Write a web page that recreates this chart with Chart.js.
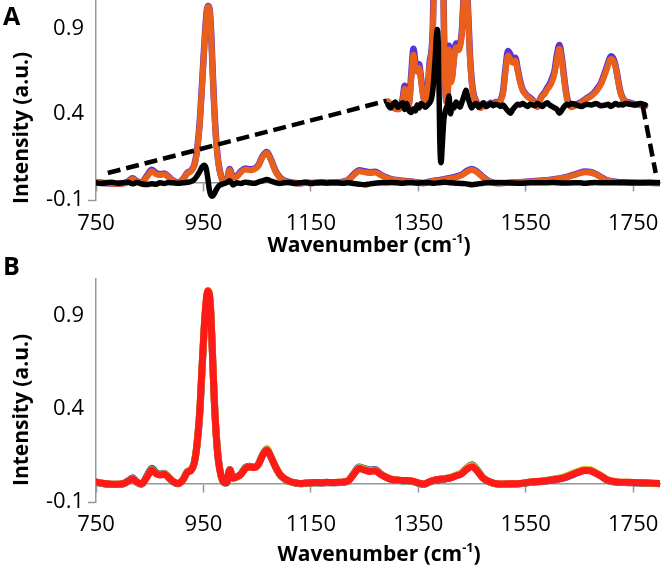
<!DOCTYPE html>
<html><head><meta charset="utf-8">
<script src="https://cdn.jsdelivr.net/npm/chart.js@4.4.1/dist/chart.umd.min.js"></script>
<style>
html,body{margin:0;padding:0;background:#fff;}
#wrap{position:relative;width:664px;height:568px;overflow:hidden;background:#fff;font-family:"Open Sans",sans-serif;}
canvas{position:absolute;left:0;}
#cA{top:-6px;}
#cB{top:270px;}
.lbl{position:absolute;font-weight:bold;color:#000;white-space:nowrap;line-height:1;font-family:"Open Sans",sans-serif;}
.panel{font-size:25px;}
.xt{font-size:21px;transform:translate(-50%,-50%);}
.yt{font-size:21px;transform:translate(-50%,-50%) rotate(-90deg);}
sup{font-size:0.6em;vertical-align:0.65em;line-height:0;}
</style></head><body>
<div id="wrap">
<canvas id="cA" width="664" height="246"></canvas>
<canvas id="cB" width="664" height="272"></canvas>
<div class="lbl panel" style="left:3px;top:3px">A</div>
<div class="lbl panel" style="left:3px;top:253px">B</div>
<div class="lbl xt" style="left:369px;top:244px">Wavenumber (cm<sup>-1</sup>)</div>
<div class="lbl xt" style="left:379px;top:553px">Wavenumber (cm<sup>-1</sup>)</div>
<div class="lbl yt" style="left:20px;top:128px">Intensity (a.u.)</div>
<div class="lbl yt" style="left:20px;top:410px">Intensity (a.u.)</div>
</div>
<script>
// ---------- DATA ----------
const wavenumbers = [
  750,760,770,780,790,800,810,
  818,826,835,845,854,862,869,877,885,893,903,912,920,927,933,938,943,947,951,955,958,961,964,967,970,974,978,983,988,993,999,
  1005,1012,1020,1028,1036,1044,1052,1060,1068,1076,1084,1092,1100,
  1110,1120,1130,1140,1150,1160,1170,1180,1190,1200,1210,1220,1230,1240,1250,1260,1270,1280,1290,1300,
  1310,1320,1330,1340,1350,1360,1370,1380,1390,1400,1410,1420,1430,1440,1450,1460,1470,1480,1490,1500,
  1520,1540,1560,1580,1600,1620,1640,
  1650,1660,1670,1680,1690,1700,1710,1720,
  1740,1760,1780,1800
];

// Panel A: orange spectrum
const spectrumAOrange = [
  0.005,0.0,-0.003,-0.005,-0.006,-0.004,0.006,
  0.022,0.008,0.0,0.035,0.068,0.05,0.045,0.05,0.033,0.013,0.002,0.02,0.055,0.068,0.10,0.18,0.34,0.54,0.76,0.95,1.025,1.015,0.89,0.66,0.44,0.23,0.11,0.035,0.004,0.006,0.075,
  0.03,0.035,0.062,0.078,0.074,0.078,0.098,0.15,0.175,0.13,0.068,0.03,0.012,
  0.004,-0.002,-0.004,0.0,-0.002,0.0,0.002,0.0,0.003,0.002,
  0.006,0.016,0.045,0.067,0.062,0.057,0.06,0.045,0.03,0.02,
  0.015,0.011,0.009,0.006,0.001,-0.003,0.006,0.012,0.015,0.021,
  0.025,0.032,0.042,0.062,0.076,0.06,0.033,0.01,0.0,-0.003,
  0.0,0.003,0.008,0.012,0.018,0.028,0.045,
  0.055,0.062,0.06,0.05,0.032,0.016,0.008,0.004,
  0.002,0.0,0.0,-0.002
];
// Panel A: purple spectrum (under the orange one)
const spectrumAPurple = [
  0.004,0.001,-0.002,-0.005,-0.005,-0.003,0.009,
  0.026,0.01,0.002,0.042,0.076,0.057,0.05,0.055,0.036,0.015,0.003,0.022,0.058,0.072,0.105,0.19,0.35,0.55,0.77,0.96,1.03,1.02,0.9,0.67,0.45,0.24,0.115,0.038,0.005,0.008,0.08,
  0.034,0.04,0.067,0.083,0.079,0.082,0.102,0.155,0.18,0.135,0.072,0.033,0.014,
  0.005,-0.001,-0.003,0.001,-0.001,0.001,0.003,0.001,0.004,0.003,
  0.007,0.019,0.05,0.073,0.068,0.062,0.064,0.048,0.032,0.021,
  0.016,0.012,0.01,0.007,0.002,-0.002,0.007,0.013,0.017,0.023,
  0.028,0.036,0.046,0.068,0.081,0.064,0.036,0.012,0.001,-0.002,
  0.001,0.004,0.009,0.013,0.02,0.03,0.048,
  0.058,0.066,0.063,0.052,0.034,0.017,0.009,0.005,
  0.003,0.001,0.0,-0.001
];
// Panel A: difference spectrum (black)
const spectrumADifference = [
  0.0,-0.004,0.001,0.004,-0.003,0.0,0.003,
  -0.006,0.002,-0.007,-0.01,-0.005,-0.008,0.0,-0.004,0.002,0.0,-0.003,0.0,0.003,0.008,0.02,0.04,0.065,0.09,0.102,0.085,0.03,-0.04,-0.072,-0.078,-0.064,-0.04,-0.02,-0.01,-0.004,0.0,0.012,
  -0.012,0.0,-0.004,0.004,0.0,-0.003,0.004,0.012,0.02,0.01,0.002,-0.004,0.0,
  0.002,-0.003,0.0,0.003,-0.002,0.0,0.002,-0.001,0.001,0.0,
  -0.002,0.0,-0.004,-0.008,-0.011,-0.006,-0.002,0.001,0.0,0.002,
  0.0,-0.002,0.001,0.0,-0.001,0.002,0.0,-0.002,0.001,0.003,
  0.0,-0.002,-0.004,-0.006,-0.011,-0.007,-0.002,0.001,0.0,0.002,
  0.0,-0.002,0.001,0.0,0.002,-0.001,0.0,
  0.001,-0.002,0.0,0.002,0.0,0.001,0.0,0.002,
  0.001,0.0,0.002,0.0
];
// Panel A: dashed zoom connector lines (data units)
const zoomConnectorLeftX = [772, 1291];
const zoomConnectorLeftY = [0.057, 0.478];
const zoomConnectorRightX = [1768, 1792];
const zoomConnectorRightY = [0.445, 0.057];
// Panel A: magnified inset axis ranges
const insetXRange = [-443, 1861];
const insetYRange = [-0.1284, 0.15];

// Panel B spectra
const spectrumBRed = [
  0.008,0.002,-0.002,-0.004,-0.004,-0.002,0.012,
  0.024,0.008,-0.002,0.035,0.072,0.052,0.045,0.05,0.032,0.012,0.0,0.02,0.06,0.07,0.11,0.21,0.38,0.60,0.82,0.98,1.035,1.02,0.9,0.68,0.46,0.25,0.12,0.04,0.006,0.004,0.072,
  0.03,0.035,0.05,0.08,0.088,0.085,0.10,0.15,0.18,0.14,0.09,0.05,0.028,
  0.012,0.004,0.0,0.002,0.004,0.005,0.004,0.006,0.005,0.006,
  0.008,0.015,0.05,0.08,0.072,0.064,0.068,0.048,0.033,0.022,
  0.018,0.016,0.016,0.012,0.003,-0.003,0.008,0.018,0.022,0.025,
  0.03,0.04,0.05,0.075,0.09,0.065,0.03,0.012,0.002,-0.003,
  -0.002,0.0,0.008,0.012,0.02,0.03,0.052,
  0.062,0.07,0.068,0.055,0.04,0.022,0.012,0.008,
  0.006,0.004,0.002,0.0
];
const spectrumBBlue = [
  0.006,0.0,-0.004,-0.006,-0.006,-0.003,0.014,
  0.03,0.006,-0.004,0.042,0.082,0.058,0.05,0.055,0.034,0.01,-0.002,0.02,0.062,0.074,0.112,0.2,0.36,0.58,0.8,0.96,1.02,1.01,0.9,0.69,0.47,0.26,0.125,0.04,0.004,0.002,0.075,
  0.028,0.033,0.052,0.086,0.092,0.088,0.102,0.15,0.178,0.14,0.09,0.048,0.026,
  0.01,0.002,-0.002,0.0,0.002,0.003,0.002,0.004,0.003,0.004,
  0.006,0.014,0.055,0.088,0.08,0.072,0.075,0.052,0.034,0.022,
  0.017,0.014,0.014,0.01,0.0,-0.006,0.006,0.016,0.02,0.024,
  0.03,0.042,0.055,0.082,0.1,0.072,0.032,0.01,0.0,-0.005,
  -0.004,-0.002,0.006,0.01,0.018,0.028,0.05,
  0.062,0.072,0.07,0.056,0.04,0.02,0.01,0.006,
  0.004,0.002,0.0,-0.002
];
const spectrumBGreen = [
  0.007,0.001,-0.003,-0.005,-0.005,-0.002,0.013,
  0.027,0.007,-0.003,0.038,0.077,0.055,0.048,0.053,0.033,0.011,-0.001,0.022,0.064,0.075,0.115,0.215,0.385,0.6,0.81,0.97,1.03,1.015,0.9,0.685,0.465,0.255,0.122,0.041,0.005,0.003,0.073,
  0.029,0.034,0.051,0.083,0.09,0.087,0.102,0.155,0.186,0.142,0.09,0.049,0.027,
  0.011,0.003,-0.001,0.001,0.003,0.004,0.003,0.005,0.004,0.005,
  0.007,0.015,0.052,0.085,0.077,0.068,0.072,0.05,0.034,0.023,
  0.018,0.015,0.015,0.011,0.002,-0.004,0.008,0.018,0.023,0.027,
  0.032,0.043,0.055,0.081,0.097,0.07,0.032,0.012,0.001,-0.004,
  -0.003,-0.001,0.008,0.013,0.022,0.033,0.056,
  0.066,0.075,0.073,0.058,0.042,0.022,0.012,0.007,
  0.005,0.003,0.001,-0.001
];
const spectrumBYellow = [
  0.008,0.002,-0.002,-0.004,-0.004,-0.001,0.012,
  0.025,0.008,-0.002,0.036,0.074,0.054,0.047,0.052,0.033,0.012,0.0,0.021,0.062,0.072,0.112,0.212,0.382,0.6,0.82,0.98,1.04,1.025,0.905,0.685,0.465,0.255,0.122,0.041,0.006,0.004,0.072,
  0.03,0.035,0.051,0.082,0.089,0.086,0.101,0.153,0.184,0.141,0.09,0.05,0.028,
  0.012,0.004,0.0,0.002,0.004,0.005,0.004,0.006,0.005,0.006,
  0.008,0.016,0.052,0.084,0.076,0.067,0.071,0.05,0.034,0.023,
  0.018,0.016,0.016,0.012,0.003,-0.003,0.008,0.018,0.023,0.027,
  0.032,0.043,0.054,0.08,0.096,0.069,0.032,0.012,0.002,-0.003,
  -0.002,0.0,0.008,0.013,0.022,0.034,0.057,
  0.067,0.076,0.074,0.059,0.043,0.023,0.013,0.008,
  0.006,0.004,0.002,0.0
];

// Axis ticks
const xTickValues = [750, 950, 1150, 1350, 1550, 1750];
const xTickLabels = ['750', '950', '1150', '1350', '1550', '1750'];
const yTickValues = [-0.1, 0.4, 0.9];
const yTickLabels = ['-0.1', '0.4', '0.9'];
const xRange = [750, 1800];
const yRange = [-0.1, 1.1];

// ---------- CHARTS ----------
Chart.defaults.font.family = 'Open Sans';
const AXIS_GRAY = '#8f9b9b';
const TICK_FONT = {family: 'Open Sans', size: 22};
const pts = arr => wavenumbers.map((w, i) => ({x: w, y: arr[i]}));
const pairs = (xs, ys) => xs.map((x, i) => ({x: x, y: ys[i]}));
const lineDs = (data, color, width, extra) => Object.assign({
  data: data, borderColor: color, backgroundColor: color, borderWidth: width,
  pointRadius: 0, fill: false, cubicInterpolationMode: 'monotone',
  borderJoinStyle: 'round', borderCapStyle: 'round'
}, extra || {});

function buildScales(labelPad, withInset) {
  const s = {
    x: {
      type: 'linear', position: 'bottom', min: xRange[0], max: xRange[1],
      afterBuildTicks: sc => { sc.ticks = xTickValues.map(v => ({value: v})); },
      afterFit: sc => { sc.height = 40; sc.paddingLeft = 0; sc.paddingRight = 0; },
      grid: {display: false}, border: {display: false},
      ticks: {autoSkip: false, maxRotation: 0, padding: labelPad, color: '#000',
              font: TICK_FONT, callback: (v, i) => xTickLabels[i]}
    },
    xZeroLine: {
      type: 'linear', axis: 'x', position: {y: 0}, min: xRange[0], max: xRange[1],
      afterBuildTicks: sc => { sc.ticks = xTickValues.map(v => ({value: v})); },
      ticks: {display: false},
      grid: {drawOnChartArea: false, drawTicks: true, tickLength: 8, tickWidth: 1.5, tickColor: AXIS_GRAY},
      border: {display: true, color: AXIS_GRAY, width: 1.5}
    },
    y: {
      type: 'linear', position: 'left', min: yRange[0], max: yRange[1],
      afterBuildTicks: sc => { sc.ticks = yTickValues.map(v => ({value: v})); },
      afterFit: sc => { sc.width = 96; sc.paddingTop = 0; sc.paddingBottom = 0; },
      grid: {drawOnChartArea: false, drawTicks: true, tickLength: 8, tickWidth: 1.5,
             tickColor: c => (c.index === 0 ? AXIS_GRAY : 'rgba(0,0,0,0)')},
      border: {display: true, color: AXIS_GRAY, width: 1.5},
      ticks: {padding: 4, color: '#000', font: TICK_FONT,
              callback: (v, i) => yTickLabels[i]}
    }
  };
  if (withInset) {
    s.xi = {type: 'linear', axis: 'x', display: false, min: insetXRange[0], max: insetXRange[1]};
    s.yi = {type: 'linear', axis: 'y', display: false, min: insetYRange[0], max: insetYRange[1]};
  }
  return s;
}
const commonOpts = {
  responsive: false, animation: false, devicePixelRatio: 1,
  plugins: {legend: {display: false}, tooltip: {enabled: false}, title: {display: false}},
  parsing: true, normalized: true
};

const dashed = {borderDash: [13, 6], borderCapStyle: 'butt', cubicInterpolationMode: 'default', tension: 0};
const main = {xAxisID: 'x', yAxisID: 'y'};
const inset = {xAxisID: 'xi', yAxisID: 'yi'};

new Chart(document.getElementById('cA'), {
  type: 'line',
  data: {datasets: [
    lineDs(pairs(zoomConnectorLeftX, zoomConnectorLeftY), '#000', 4.5, Object.assign({}, dashed, main)),
    lineDs(pairs(zoomConnectorRightX, zoomConnectorRightY), '#000', 4.5, Object.assign({}, dashed, main)),
    lineDs(pts(spectrumADifference), '#000000', 5.5, main),
    lineDs(pts(spectrumADifference), '#000000', 5.5, inset),
    lineDs(pts(spectrumAOrange), '#e8601c', 6, main),
    lineDs(pts(spectrumAOrange), '#e8601c', 6, inset),
    lineDs(pts(spectrumAPurple), '#5533dd', 6.5, main),
    lineDs(pts(spectrumAPurple), '#5533dd', 6.5, inset)
  ]},
  options: Object.assign({}, commonOpts, {
    layout: {padding: {left: 0, right: 4, top: 0, bottom: 0}},
    scales: buildScales(3, true)
  })
});

new Chart(document.getElementById('cB'), {
  type: 'line',
  data: {datasets: [
    lineDs(pts(spectrumBRed), '#ff1a1a', 7, main),
    lineDs(pts(spectrumBYellow), '#e0c020', 7, main),
    lineDs(pts(spectrumBGreen), '#4aa84a', 7, main),
    lineDs(pts(spectrumBBlue), '#2a3fb0', 7, main)
  ]},
  options: Object.assign({}, commonOpts, {
    layout: {padding: {left: 0, right: 4, top: 9, bottom: 0}},
    scales: buildScales(2, false)
  })
});
</script>
</body></html>
